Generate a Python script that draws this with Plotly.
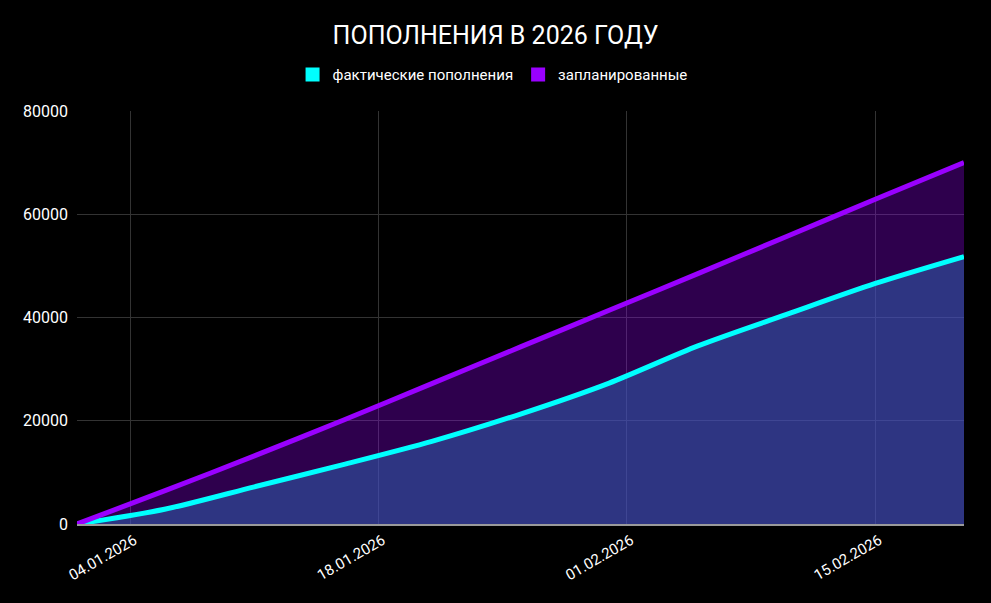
import plotly.graph_objects as go

dates = ["2026-01-01", "2026-01-06", "2026-01-11", "2026-01-16", "2026-01-21",
         "2026-01-26", "2026-01-31", "2026-02-05", "2026-02-10", "2026-02-15", "2026-02-20"]
actual = [0, 2900, 7200, 11500, 16000, 21300, 27300, 34500, 40600, 46600, 51800]
planned = [0, 6500, 13200, 20100, 27200, 34300, 41400, 48500, 55700, 62900, 70000]
tick_dates = ["2026-01-04", "2026-01-18", "2026-02-01", "2026-02-15"]
tick_labels = ["04.01.2026", "18.01.2026", "01.02.2026", "15.02.2026"]

CYAN = "#00ffff"
PURPLE = "#9900ff"

fig = go.Figure()
fig.add_trace(go.Scatter(
    x=dates, y=actual, mode="lines", name="фактические пополнения",
    line=dict(color=CYAN, width=5, shape="spline", smoothing=0.8),
    fill="tozeroy", fillcolor="rgba(70,81,200,0.65)", showlegend=False))
fig.add_trace(go.Scatter(
    x=dates, y=planned, mode="lines", name="запланированные",
    line=dict(color=PURPLE, width=5, shape="spline", smoothing=0.8),
    fill="tonexty", fillcolor="rgba(153,0,255,0.3)", showlegend=False))
# legend entries as square swatches
fig.add_trace(go.Scatter(x=[None], y=[None], mode="markers", name="фактические пополнения",
                         marker=dict(symbol="square", size=14, color=CYAN)))
fig.add_trace(go.Scatter(x=[None], y=[None], mode="markers", name="запланированные",
                         marker=dict(symbol="square", size=14, color=PURPLE)))

fig.update_layout(
    width=991, height=603,
    paper_bgcolor="#000000", plot_bgcolor="#000000",
    font=dict(family="Roboto", color="#ffffff", size=14),
    title=dict(text="ПОПОЛНЕНИЯ В 2026 ГОДУ", x=0.5, xanchor="center", y=0.942, yanchor="middle",
               font=dict(size=25, color="#ffffff")),
    legend=dict(orientation="h", x=0.4685, xanchor="center", y=1.088, yanchor="middle",
                font=dict(size=15), itemsizing="trace", traceorder="normal",
                bgcolor="rgba(0,0,0,0)"),
    margin=dict(l=77, r=27, t=111, b=79),
    showlegend=True,
)
fig.update_xaxes(
    range=["2026-01-01", "2026-02-20"], tickvals=tick_dates, ticktext=tick_labels,
    tickangle=-30, showgrid=True, gridcolor="#333333", gridwidth=1,
    showline=True, linecolor="#9a9a9a", linewidth=2, zeroline=False,
    tickfont=dict(size=15, color="#ffffff"), ticks="", ticklabelshift=4)
fig.update_yaxes(
    range=[0, 80000], dtick=20000, tickformat="d", showgrid=True, gridcolor="#333333",
    gridwidth=1, zeroline=False, showline=False,
    tickfont=dict(size=16, color="#ffffff"), ticks="", ticklabelstandoff=8)

fig.write_html("out.html", config={"displayModeBar": False},
               post_script="document.body.style.margin='0';document.body.style.background='#000';")
